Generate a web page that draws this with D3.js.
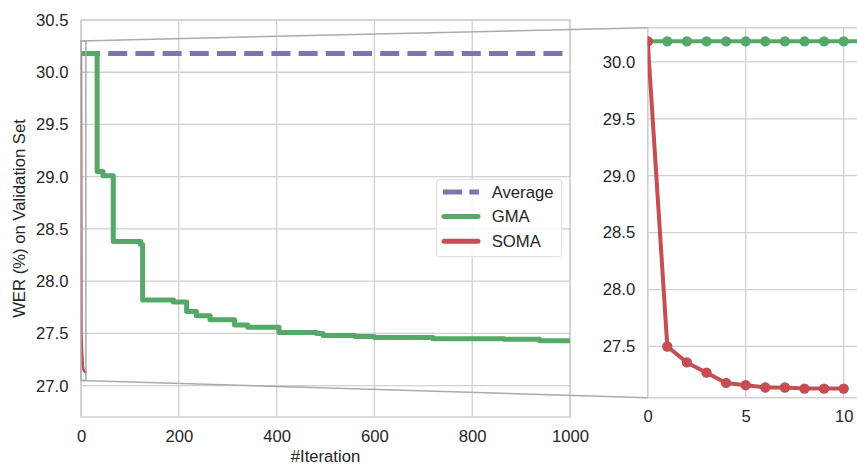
<!DOCTYPE html>
<html>
<head>
<meta charset="utf-8">
<script src="https://cdn.jsdelivr.net/npm/d3@7"></script>
<style>
  html, body { margin: 0; padding: 0; background: #ffffff; }
  svg { display: block; font-family: "Liberation Sans", Arial, sans-serif; }
</style>
</head>
<body>
<svg id="chart" width="857" height="466"></svg>
<script>
// ---------------- data ----------------
const averageWER = 30.18;

// GMA: step curve over 1000 iterations (left panel)
const gmaIter = [0, 33, 45, 66, 122, 126, 189, 216, 236, 264, 314, 341, 405, 482, 495, 560, 600, 720, 865, 938, 1000];
const gmaWER  = [30.18, 29.05, 29.01, 28.38, 28.35, 27.82, 27.80, 27.71, 27.67, 27.63, 27.58, 27.56, 27.51, 27.50, 27.48, 27.47, 27.46, 27.45, 27.445, 27.43, 27.43];

// SOMA: first 10 iterations
const somaIter = [0, 1, 2, 3, 4, 5, 6, 7, 8, 9, 10];
const somaWER  = [30.18, 27.50, 27.36, 27.27, 27.18, 27.16, 27.14, 27.14, 27.13, 27.13, 27.13];

// GMA in zoomed panel (first iterations, flat)
const gmaZoomIter = [0, 1, 2, 3, 4, 5, 6, 7, 8, 9, 10, 11, 12];
const gmaZoomWER  = [30.18, 30.18, 30.18, 30.18, 30.18, 30.18, 30.18, 30.18, 30.18, 30.18, 30.18, 30.18, 30.18];

// ticks
const leftXTicks  = [0, 200, 400, 600, 800, 1000];
const leftYTicks  = [27.0, 27.5, 28.0, 28.5, 29.0, 29.5, 30.0, 30.5];
const rightXTicks = [0, 5, 10];
const rightYTicks = [27.5, 28.0, 28.5, 29.0, 29.5, 30.0];

// zoom window
const zoomX = [0, 10];
const zoomY = [27.05, 30.30];

const legendNames = ["Average", "GMA", "SOMA"];
const xLabel = "#Iteration";
const yLabel = "WER (%) on Validation Set";

// ---------------- style ----------------
const C = { avg: "#8172B2", gma: "#55A868", soma: "#C44E52", grid: "#d0d0d0", text: "#262626", inset: "#aaaaaa" };
const FS = 16.67;

const svg = d3.select("#chart");
svg.append("rect").attr("width", 857).attr("height", 466).attr("fill", "#fff");

// ---------------- scales ----------------
const L = { x0: 81, x1: 570, y0: 20, y1: 417 };
const R = { x0: 647.7, x1: 880, y0: 27.7, y1: 397.7 };

const xL = d3.scaleLinear().domain([0, 1000]).range([L.x0, L.x1]);
const yL = d3.scaleLinear().domain([26.7, 30.5]).range([L.y1, L.y0]);
const xR = d3.scaleLinear().domain([0, 10]).range([R.x0, 843.7]);
const yR = d3.scaleLinear().domain(zoomY).range([R.y1, R.y0]);

const defs = svg.append("defs");
defs.append("clipPath").attr("id", "clipL").append("rect")
  .attr("x", L.x0).attr("y", L.y0).attr("width", L.x1 - L.x0).attr("height", L.y1 - L.y0);
defs.append("clipPath").attr("id", "clipR").append("rect")
  .attr("x", R.x0).attr("y", R.y0).attr("width", R.x1 - R.x0).attr("height", R.y1 - R.y0);

function drawFrame(box, xs, ys, xt, yt, xpad, ypad, fmtX) {
  const g = svg.append("g");
  // grid
  g.selectAll(".gx").data(xt).enter().append("line")
    .attr("x1", d => xs(d)).attr("x2", d => xs(d)).attr("y1", box.y0).attr("y2", box.y1)
    .attr("stroke", C.grid).attr("stroke-width", 1.3);
  g.selectAll(".gy").data(yt).enter().append("line")
    .attr("x1", box.x0).attr("x2", box.x1).attr("y1", d => ys(d)).attr("y2", d => ys(d))
    .attr("stroke", C.grid).attr("stroke-width", 1.3);
  // spines
  g.append("rect").attr("x", box.x0).attr("y", box.y0)
    .attr("width", box.x1 - box.x0).attr("height", box.y1 - box.y0)
    .attr("fill", "none").attr("stroke", C.grid).attr("stroke-width", 1.5);
  // axes (labels only)
  const ax = svg.append("g").attr("transform", `translate(0,${box.y1})`)
    .call(d3.axisBottom(xs).tickValues(xt).tickSize(0).tickPadding(xpad).tickFormat(fmtX));
  const ay = svg.append("g").attr("transform", `translate(${box.x0},0)`)
    .call(d3.axisLeft(ys).tickValues(yt).tickSize(0).tickPadding(ypad).tickFormat(d3.format(".1f")));
  [ax, ay].forEach(a => {
    a.select(".domain").remove();
    a.selectAll("text").attr("font-size", FS).attr("fill", C.text)
      .attr("font-family", '"Liberation Sans", Arial, sans-serif');
  });
}

drawFrame(L, xL, yL, leftXTicks, leftYTicks, 13, 12.5, d3.format("d"));
drawFrame(R, xR, yR, rightXTicks, rightYTicks, 12.3, 12.5, d3.format("d"));

// axis labels
svg.append("text").attr("x", (L.x0 + L.x1) / 2).attr("y", 461.5).attr("text-anchor", "middle")
  .attr("font-size", FS).attr("fill", C.text).text(xLabel);
svg.append("text").attr("transform", `translate(19,${(L.y0 + L.y1) / 2}) rotate(-90)`)
  .attr("text-anchor", "middle").attr("dy", "0.35em")
  .attr("font-size", FS).attr("fill", C.text).text(yLabel);

// ---------------- left panel lines ----------------
const gL = svg.append("g").attr("clip-path", "url(#clipL)");
gL.append("line")
  .attr("x1", xL(0)).attr("x2", xL(1000)).attr("y1", yL(averageWER)).attr("y2", yL(averageWER))
  .attr("stroke", C.avg).attr("stroke-width", 5).attr("stroke-dasharray", "19,8.2");
const gmaData = gmaIter.map((d, i) => [d, gmaWER[i]]);
gL.append("path").datum(gmaData)
  .attr("d", d3.line().x(d => xL(d[0])).y(d => yL(d[1])).curve(d3.curveStepAfter))
  .attr("fill", "none").attr("stroke", C.gma).attr("stroke-width", 5).attr("stroke-linejoin", "round");
const somaData = somaIter.map((d, i) => [d, somaWER[i]]);
gL.append("path").datum(somaData)
  .attr("d", d3.line().x(d => xL(d[0])).y(d => yL(d[1])))
  .attr("fill", "none").attr("stroke", C.soma).attr("stroke-width", 2.5)
  .attr("stroke-linejoin", "round").attr("stroke-linecap", "round");

// inset indicator
svg.append("rect")
  .attr("x", xL(zoomX[0])).attr("y", yL(zoomY[1]))
  .attr("width", xL(zoomX[1]) - xL(zoomX[0])).attr("height", yL(zoomY[0]) - yL(zoomY[1]))
  .attr("fill", "none").attr("stroke", C.inset).attr("stroke-width", 1.5);

// ---------------- right panel ----------------
const gR = svg.append("g").attr("clip-path", "url(#clipR)");
const gmaZ = gmaZoomIter.map((d, i) => [d, gmaZoomWER[i]]);
const lineR = d3.line().x(d => xR(d[0])).y(d => yR(d[1]));
gR.append("path").datum(gmaZ).attr("d", lineR)
  .attr("fill", "none").attr("stroke", C.gma).attr("stroke-width", 4).attr("stroke-linejoin", "round");
gR.selectAll(".mg").data(gmaZ).enter().append("circle")
  .attr("cx", d => xR(d[0])).attr("cy", d => yR(d[1])).attr("r", 5.2).attr("fill", C.gma);
gR.append("path").datum(somaData).attr("d", lineR)
  .attr("fill", "none").attr("stroke", C.soma).attr("stroke-width", 4).attr("stroke-linejoin", "round");
gR.selectAll(".ms").data(somaData).enter().append("circle")
  .attr("cx", d => xR(d[0])).attr("cy", d => yR(d[1])).attr("r", 5.2).attr("fill", C.soma);

// connector lines
[zoomY[1], zoomY[0]].forEach(v => {
  svg.append("line")
    .attr("x1", xL(zoomX[0])).attr("y1", yL(v)).attr("x2", xR(zoomX[0])).attr("y2", yR(v))
    .attr("stroke", C.inset).attr("stroke-width", 1.5);
});

// ---------------- legend ----------------
const lg = svg.append("g");
lg.append("rect").attr("x", 436.7).attr("y", 179.3).attr("width", 125).attr("height", 77.4)
  .attr("rx", 3).attr("fill", "rgba(255,255,255,0.85)").attr("stroke", "#dddddd").attr("stroke-width", 1);
const legColors = [C.avg, C.gma, C.soma];
legendNames.forEach((name, i) => {
  const y = 192 + i * 24.6;
  const l = lg.append("line").attr("x1", 443).attr("x2", 479).attr("y1", y).attr("y2", y)
    .attr("stroke", legColors[i]).attr("stroke-width", 5);
  if (i === 0) l.attr("stroke-dasharray", "19,7.3");
  else l.attr("stroke-linecap", "round").attr("x1", 444).attr("x2", 478);
  lg.append("text").attr("x", 491.7).attr("y", y).attr("dy", "0.35em")
    .attr("font-size", FS).attr("fill", C.text).text(name);
});
</script>
</body>
</html>
